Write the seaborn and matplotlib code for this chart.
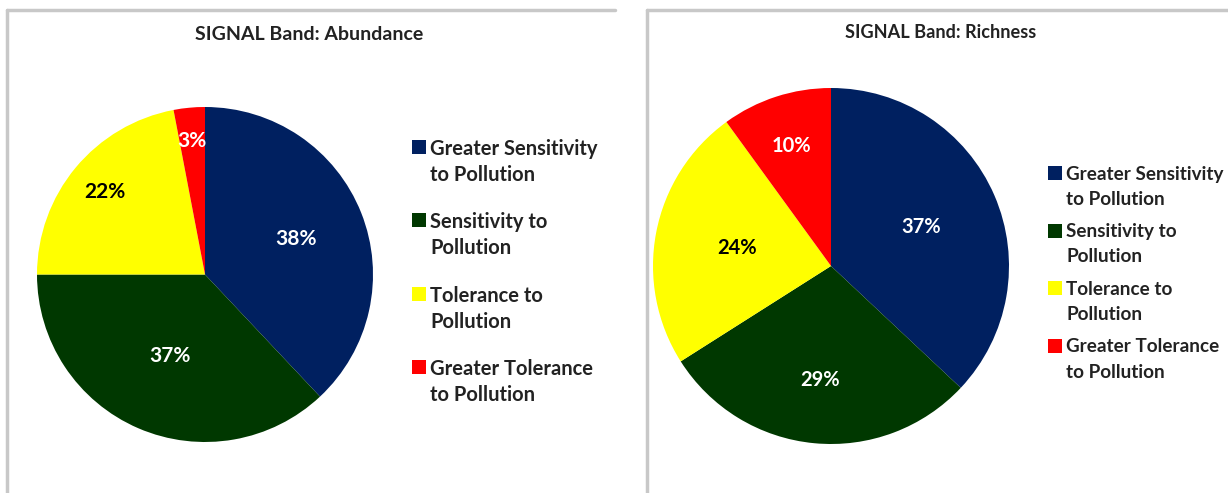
import numpy as np
import matplotlib
matplotlib.use("Agg")
import matplotlib.pyplot as plt
from matplotlib.lines import Line2D
from matplotlib.patches import Rectangle
import seaborn as sns

sns.set_theme(style="white")
plt.rcParams["font.family"] = ["Lato", "DejaVu Sans"]

categories = [
    "Greater Sensitivity\nto Pollution",
    "Sensitivity to\nPollution",
    "Tolerance to\nPollution",
    "Greater Tolerance\nto Pollution",
]
abundance = [38, 37, 22, 3]
richness = [37, 29, 24, 10]
titles = ["SIGNAL Band: Abundance", "SIGNAL Band: Richness"]

colors = ["#002060", "#003800", "#FFFF00", "#FF0000"]
label_colors = ["white", "white", "black", "white"]
text_color = "#222222"

W, H = 1228, 493
fig = plt.figure(figsize=(W / 100, H / 100), dpi=100)


def px_axes(x0, y0, x1, y1):
    """Axes from pixel box (top-left origin)."""
    return fig.add_axes([x0 / W, 1 - y1 / H, (x1 - x0) / W, (y1 - y0) / H])


# overlay in pixel coordinates for frames, titles and legends
frame = fig.add_axes([0, 0, 1, 1], zorder=-1)
frame.set_xlim(0, W)
frame.set_ylim(H, 0)
frame.axis("off")
border = "#c8c8c8"
for xs, ys in [([7, 7], [H, 10]), ([7, 615], [10, 10]),
               ([647, 647], [H, 10]), ([647, W], [10, 10])]:
    frame.add_line(Line2D(xs, ys, color=border, lw=2.5))


def draw_legend(x, y0, step, line_gap, size, fs):
    for i, (lab, col) in enumerate(zip(categories, colors)):
        y = y0 + i * step
        frame.add_patch(Rectangle((x, y - size / 2), size, size, facecolor=col,
                                  edgecolor="none"))
        for k, line in enumerate(lab.split("\n")):
            frame.text(x + size + 4, y + k * line_gap, line, ha="left",
                       va="center_baseline", fontsize=fs, fontweight="bold",
                       color=text_color)


def draw_pie(values, box, dists, title, title_xy, title_fs, label_fs):
    ax = px_axes(*box)
    wedges, _ = ax.pie(values, colors=colors, startangle=90, counterclock=False,
                       radius=1, wedgeprops=dict(linewidth=0))
    ax.set_xlim(-1, 1)
    ax.set_ylim(-1, 1)
    ax.set_aspect("auto")
    total = sum(values)
    for w, v, d, c in zip(wedges, values, dists, label_colors):
        ang = np.deg2rad((w.theta1 + w.theta2) / 2)
        ax.text(d * np.cos(ang), d * np.sin(ang), f"{round(100 * v / total)}%",
                ha="center", va="center", color=c, fontsize=label_fs,
                fontweight="bold")
    frame.text(title_xy[0], title_xy[1], title, ha="center", va="center",
               fontsize=title_fs, fontweight="bold", color=text_color)


draw_pie(abundance, (37, 107, 373, 442), [0.58, 0.53, 0.77, 0.80],
         titles[0], (309, 35), 14, 15)
draw_legend(412, 147, 73.3, 26, 14, 14.5)

draw_pie(richness, (653, 88, 1009, 444), [0.55, 0.645, 0.54, 0.71],
         titles[1], (941, 33), 13.1, 14.5)
draw_legend(1048, 173, 57.5, 25, 14, 13.6)

fig.savefig("out.png", dpi=100, facecolor="white")
